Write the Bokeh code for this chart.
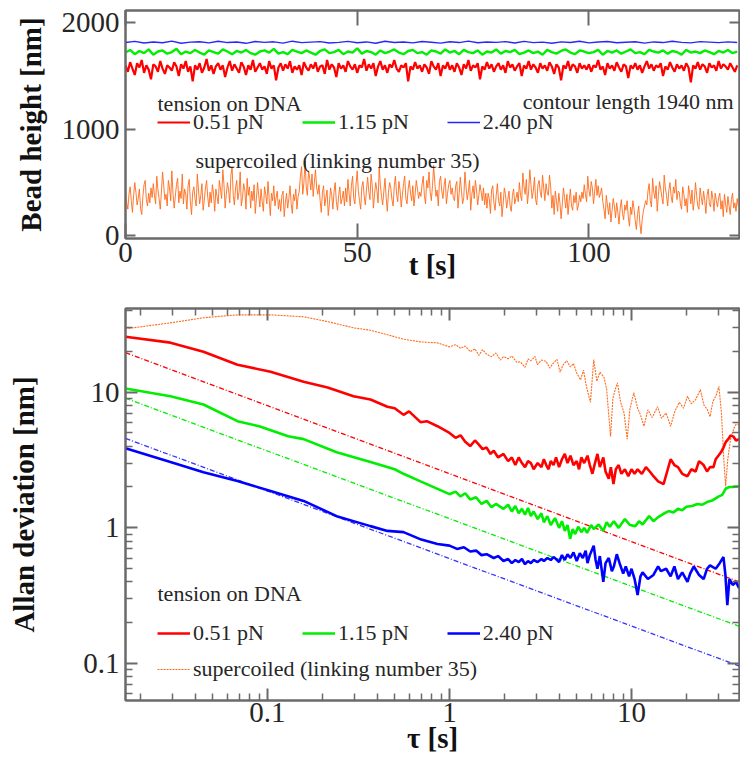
import numpy as np
from bokeh.plotting import figure
from bokeh.models import (Range1d, FixedTicker, LinearAxis, LogAxis, Legend, LegendItem,
                          Label, CustomJSTickFormatter)
from bokeh.layouts import column
from bokeh.embed import file_html
from bokeh.resources import INLINE

# ---------------- data: top panel (bead height vs time) ----------------
dt_sc = 0.25    # s, sampling of the supercoiled trace
dt_fast = 0.5   # s, red trace
dt_mid = 1.0    # s, green trace
dt_slow = 2.0   # s, blue trace

height_051 = [
    1600, 1540, 1630, 1570, 1510, 1620, 1580, 1650, 1530, 1600, 1560, 1470, 1610, 1590, 1540, 1640, 1570, 1520, 1600, 1580,
    1550, 1630, 1590, 1500, 1610, 1570, 1640, 1540, 1590, 1450, 1600, 1560, 1620, 1530, 1580, 1660, 1550, 1600, 1520, 1590,
    1620, 1560, 1600, 1490, 1580, 1640, 1550, 1610, 1570, 1530, 1630, 1590, 1510, 1600, 1560, 1650, 1540, 1580, 1620, 1560,
    1590, 1520, 1640, 1570, 1600, 1460, 1580, 1620, 1550, 1610, 1570, 1640, 1530, 1590, 1560, 1600, 1510, 1630, 1580, 1550,
    1610, 1570, 1630, 1540, 1590, 1600, 1520, 1650, 1560, 1610, 1580, 1490, 1620, 1570, 1600, 1540, 1640, 1590, 1560, 1610,
    1530, 1600, 1580, 1660, 1550, 1610, 1570, 1620, 1500, 1590, 1640, 1560, 1600, 1530, 1610, 1580, 1650, 1570, 1540, 1600,
    1580, 1620, 1450, 1590, 1560, 1630, 1570, 1600, 1540, 1610, 1580, 1520, 1640, 1590, 1560, 1620, 1500, 1600, 1570, 1630,
    1560, 1600, 1540, 1620, 1580, 1510, 1610, 1570, 1650, 1550, 1600, 1580, 1620, 1470, 1590, 1560, 1630, 1570, 1610, 1540,
    1590, 1620, 1560, 1600, 1530, 1640, 1580, 1610, 1550, 1590, 1620, 1500, 1600, 1570, 1640, 1560, 1610, 1580, 1530, 1620,
    1570, 1600, 1550, 1630, 1590, 1520, 1610, 1580, 1460, 1600, 1570, 1640, 1550, 1610, 1590, 1530, 1620, 1570, 1600, 1560,
    1610, 1540, 1600, 1580, 1650, 1560, 1590, 1510, 1620, 1570, 1600, 1550, 1630, 1580, 1540, 1610, 1590, 1480, 1600, 1570,
    1620, 1560, 1600, 1530, 1590, 1640, 1570, 1610, 1550, 1600, 1580, 1620, 1500, 1590, 1560, 1630, 1580, 1540, 1610, 1570,
    1600, 1550, 1620, 1580, 1440, 1600, 1570, 1630, 1560, 1610, 1590, 1530, 1620, 1580, 1600, 1550, 1640, 1570, 1610, 1590,
    1560, 1620, 1580, 1540, 1600,
]

height_115 = [
    1720, 1745, 1705, 1735, 1715, 1750, 1700, 1730, 1740, 1710, 1725, 1755, 1705, 1730, 1715, 1745, 1720, 1700, 1740, 1725,
    1710, 1750, 1730, 1705, 1735, 1720, 1745, 1715, 1700, 1730, 1740, 1720, 1755, 1710, 1725, 1705, 1745, 1730, 1715, 1740,
    1720, 1700, 1735, 1750, 1715, 1725, 1745, 1705, 1730, 1720, 1760, 1710, 1735, 1725, 1700, 1740, 1715, 1730, 1750, 1720,
    1705, 1735, 1745, 1715, 1725, 1700, 1740, 1730, 1710, 1750, 1720, 1735, 1705, 1745, 1725, 1715, 1740, 1700, 1730, 1720,
    1750, 1710, 1735, 1725, 1745, 1705, 1720, 1740, 1715, 1730, 1700, 1745, 1725, 1710, 1735, 1750, 1720, 1705, 1740, 1730,
    1715, 1725, 1745, 1700, 1735, 1720, 1740, 1710, 1730, 1750, 1715, 1725, 1705, 1745, 1730, 1720, 1740, 1710, 1735, 1725,
    1700, 1745, 1720, 1730, 1715, 1740, 1725, 1705, 1735, 1720, 1745, 1715, 1730,
]

height_240 = [
    1815, 1825, 1810, 1820, 1812, 1828, 1808, 1818, 1822, 1811, 1826, 1814, 1819, 1807, 1824, 1816, 1821, 1809, 1827, 1813,
    1818, 1823, 1810, 1816, 1825, 1812, 1820, 1808, 1826, 1815, 1819, 1811, 1824, 1817, 1809, 1822, 1814, 1828, 1812, 1820,
    1816, 1823, 1810, 1825, 1813, 1818, 1807, 1821, 1815, 1826, 1811, 1819, 1824, 1812, 1817, 1822, 1809, 1820, 1814, 1827,
    1816, 1811, 1823, 1818, 1813, 1821, 1815,
]

height_sc = [
    420, 310, 250, 390, 460, 330, 220, 380, 500, 410, 290, 350, 440, 260, 200, 370, 480, 520, 340, 280, 400, 310, 450, 360,
    490, 380, 300, 560, 430, 350, 250, 410, 600, 470, 340, 390, 280, 520, 450, 330, 610, 400, 260, 370, 480, 540, 310, 420,
    350, 580, 300, 440,
    390, 250, 470, 530, 320, 200, 410, 460, 350, 280, 580, 430, 300, 380, 490, 240, 330, 450, 520, 360, 270, 410, 310, 480,
    400, 230, 440, 370,
    300, 520, 440, 350, 620, 480, 260, 390, 500, 430, 310, 570, 650, 380, 290, 450, 520, 340, 410, 600, 280, 360, 490, 430,
    250, 540, 380, 460,
    260, 420, 330, 480, 210, 350, 500, 380, 270, 440, 320, 230, 460, 390, 300, 510, 350, 190, 400, 330, 470, 280, 360, 420,
    250, 340,
    230, 380, 420, 180, 310, 400, 260, 350, 470, 300, 210, 390, 330, 440, 250, 370,
    420, 560, 650, 390, 500, 700, 460, 380, 610, 540, 430, 580, 370, 500, 620, 450, 390, 480,
    330, 220, 410, 470, 280, 360, 430, 190, 300, 450, 380, 250, 410, 500, 320, 240, 380, 460, 300, 350, 420, 280,
    450, 320, 530, 400, 280, 470, 560, 350, 300, 480, 610, 420, 330, 250, 460, 510, 380, 290, 430, 550,
    420, 340, 580, 470, 260, 390, 500, 430, 310, 640, 480, 370, 290, 420, 540, 360, 230, 410, 500, 450,
    340, 280, 470, 560, 390, 320, 510, 430, 270, 380, 490, 560, 350, 300, 440, 520, 400, 330, 470, 280,
    390, 520, 440, 350, 410, 370,
    480, 560, 380, 300, 520, 450, 600, 410, 330, 470, 660, 500, 370, 430, 280, 510, 560, 420, 350, 470, 540, 300, 400, 480,
    520, 390, 450, 360,
    330, 470, 510, 260, 400, 550, 420, 300, 360, 600, 450, 340, 420, 520, 240, 390, 470, 350, 520, 430, 290, 380, 480, 410,
    330, 450, 290, 400,
    260, 400, 350, 210, 430, 470, 310, 240, 380, 490, 330, 280, 410, 180, 300, 450, 390, 260, 340, 420, 280, 230, 380, 440,
    300, 350, 410, 320,
    500, 380, 330, 590, 460, 390, 530, 300, 420, 620, 480, 350, 420, 550, 340, 290, 480, 520, 410, 360, 570, 450, 330, 490,
    410, 380, 570, 460,
    260, 380, 200, 420, 330, 230, 400, 310, 160, 290, 450, 360, 260, 390, 200, 330, 440, 280, 240, 380, 310, 410, 240, 290,
    380, 320, 410, 350,
    480, 390, 320, 560, 430, 370, 510, 450, 300, 420, 530, 380, 470, 360, 400, 450,
    320, 250, 160, 380, 290, 200, 310, 130, 240, 350, 280, 170, 310, 220, 110, 260, 340, 210, 150, 290,
    240, 330, 180, 90, 270, 200, 330, 250, 140, 60, 200, 280, 120, 20, 150, 230, 280, 330,
    290, 420, 490, 330, 270, 540, 410, 350, 470, 230, 380, 510, 440, 360, 300, 570, 450, 380, 280, 430, 500, 370, 310, 460,
    400, 530, 340, 420,
    410, 300, 250, 460, 390, 280, 350, 220, 470, 400, 300, 430, 240, 330, 500, 380, 280, 250, 450, 360, 290, 420, 330, 210,
    380, 440, 300, 270, 420, 350, 230, 400, 330, 270, 360, 400,
    250, 330, 180, 390, 300, 220, 370, 280, 200, 340, 400, 260, 310, 230, 350, 280,
]

t_051 = np.arange(len(height_051)) * dt_fast
t_115 = np.arange(len(height_115)) * dt_mid
t_240 = np.arange(len(height_240)) * dt_slow
t_sc = np.arange(len(height_sc)) * dt_sc

# ---------------- data: bottom panel (Allan deviation) ----------------
tau_051 = [0.0166, 0.0293, 0.0445, 0.0684, 0.104, 0.158, 0.214, 0.297, 0.368, 0.456, 0.50, 0.559, 0.60,
           0.693, 0.75, 0.859,
           1.0, 1.08, 1.15, 1.22, 1.3, 1.38, 1.45, 1.52, 1.6, 1.68, 1.75, 1.85, 1.98, 2.1, 2.2, 2.3, 2.4,
           2.5, 2.6, 2.7, 2.8, 2.9, 3.05, 3.2, 3.3, 3.4, 3.5, 3.6, 3.73, 3.85, 4.0, 4.15, 4.3, 4.45, 4.62,
           4.8, 5.0, 5.15, 5.3, 5.5, 5.73, 5.9, 6.1, 6.3, 6.5, 6.7, 7.0, 7.2, 7.5, 7.7, 7.96, 8.2, 8.5,
           8.8, 9.2, 9.6, 10.0, 10.4, 10.8, 11.4, 12.0, 12.6, 13.2, 14.0, 15.0, 15.7, 16.4, 17.2, 18.0,
           19.0, 20.3, 21.3, 22.5, 23.5, 24.9, 26.0, 27.0, 28.2, 29.0, 30.0, 31.0, 32.0, 33.0, 34.0,
           35.0, 36.3, 37.5, 39.0]
adev_051 = [25.5, 23.1, 19.8, 15.9, 14.1, 11.9, 10.8, 9.3, 8.8, 7.8, 7.6, 6.8, 7.2,
            6.0, 6.1, 5.6,
            5.0, 4.6, 4.8, 4.3, 4.0, 4.4, 4.1, 3.8, 3.9, 3.5, 3.7, 3.3, 3.5, 3.1, 3.3, 2.9, 3.3,
            3.0, 2.8, 3.1, 3.0, 2.7, 3.0, 2.8, 3.2, 2.9, 2.7, 3.1, 2.9, 3.3, 2.8, 3.2, 3.5, 3.0, 3.4,
            2.9, 3.1, 2.7, 3.3, 3.0, 3.4, 2.9, 2.5, 3.0, 3.5, 2.8, 3.3, 2.6, 2.3, 2.8, 2.1, 2.7, 2.9,
            2.5, 2.7, 2.4, 2.7, 2.5, 2.7, 2.5, 2.8, 2.6, 2.4, 2.2, 2.1, 2.6, 3.2, 2.9, 2.8,
            2.5, 2.4, 2.7, 2.6, 3.1, 2.9, 2.6, 2.8, 2.8, 3.2, 3.4, 3.6, 3.9, 4.3, 4.5,
            4.8, 4.7, 4.4, 4.5]

tau_115 = [0.0166, 0.0293, 0.0445, 0.0684, 0.09, 0.13, 0.158, 0.24, 0.368, 0.5, 0.559, 0.693,
           1.0, 1.08, 1.15, 1.22, 1.3, 1.4, 1.5, 1.6, 1.7, 1.8, 1.98, 2.1, 2.2, 2.3, 2.4, 2.5, 2.6, 2.7,
           2.8, 2.9, 3.05, 3.2, 3.3, 3.45, 3.6, 3.8, 4.0, 4.15, 4.3, 4.45, 4.6, 4.75, 4.9, 5.1, 5.3,
           5.5, 5.7, 6.0, 6.2, 6.6, 7.0, 7.3, 7.6, 8.0, 8.5, 9.2, 9.8, 10.5, 11.0, 11.5, 12.5, 13.2,
           14.0, 15.0, 16.0, 17.0, 18.0, 19.0, 20.0, 21.5, 23.0, 24.5, 26.0, 28.0, 30.0, 31.5, 33.0,
           34.5, 36.0, 39.0]
adev_115 = [10.6, 9.3, 8.1, 6.1, 5.6, 4.72, 4.5, 3.6, 3.05, 2.7, 2.5, 2.2,
            1.77, 1.85, 1.7, 1.8, 1.62, 1.68, 1.5, 1.58, 1.42, 1.5, 1.38, 1.48, 1.32, 1.45, 1.28, 1.38,
            1.25, 1.4, 1.22, 1.32, 1.16, 1.28, 1.1, 1.22, 1.05, 1.18, 1.0, 1.12, 0.95, 1.05, 0.83, 0.98,
            0.9, 1.02, 0.93, 1.0, 0.92, 1.05, 0.98, 1.06, 0.95, 1.1, 1.02, 1.12, 1.0, 1.16, 1.05, 1.03,
            1.12, 1.06, 1.22, 1.12, 1.2, 1.27, 1.33, 1.3, 1.38, 1.35, 1.43, 1.45, 1.5, 1.48, 1.55, 1.6,
            1.7, 1.75, 1.95, 2.0, 2.0, 2.02]

tau_240 = [0.0166, 0.0293, 0.0445, 0.0684, 0.104, 0.158, 0.24, 0.368, 0.456, 0.559, 0.7, 0.859,
           1.0, 1.1, 1.2, 1.3, 1.4, 1.5, 1.6, 1.75, 1.85, 1.98, 2.1, 2.2, 2.3, 2.4, 2.5, 2.6, 2.7, 2.8,
           2.9, 3.05, 3.2, 3.3, 3.45, 3.6, 3.73, 3.85, 4.0, 4.15, 4.3, 4.45, 4.62, 4.8, 5.0, 5.2, 5.4,
           5.6, 5.73, 5.9, 6.2, 6.35, 6.5, 6.7, 7.0, 7.2, 7.5, 7.8, 8.0, 8.3, 8.6, 9.0, 9.3, 9.7, 10.0,
           10.4, 10.8, 11.2, 11.5, 12.3, 13.2, 14.0, 14.5, 15.5, 16.4, 17.2, 18.0, 19.0, 20.3, 21.0,
           22.0, 23.5, 24.9, 26.0, 27.0, 29.0, 30.5, 32.0, 32.8, 33.6, 34.5, 36.0, 37.5, 39.0]
adev_240 = [3.86, 3.05, 2.57, 2.21, 1.87, 1.58, 1.22, 1.03, 0.95, 0.93, 0.82, 0.76,
            0.74, 0.70, 0.72, 0.67, 0.68, 0.63, 0.64, 0.60, 0.62, 0.57, 0.59, 0.55, 0.58, 0.56, 0.59,
            0.54, 0.57, 0.55, 0.58, 0.56, 0.59, 0.57, 0.60, 0.58, 0.61, 0.59, 0.56, 0.63, 0.58, 0.64,
            0.60, 0.66, 0.57, 0.65, 0.60, 0.68, 0.55, 0.63, 0.74, 0.58, 0.50, 0.62, 0.40, 0.55, 0.60,
            0.48, 0.52, 0.64, 0.55, 0.46, 0.52, 0.44, 0.50, 0.42, 0.32, 0.44, 0.47, 0.42, 0.45, 0.52,
            0.48, 0.50, 0.44, 0.52, 0.42, 0.47, 0.40, 0.46, 0.52, 0.45, 0.42, 0.50, 0.53, 0.50, 0.55,
            0.61, 0.45, 0.27, 0.42, 0.38, 0.40, 0.36]

tau_sc = [0.0166, 0.0293, 0.0445, 0.0684, 0.104, 0.158, 0.214, 0.297, 0.368, 0.456, 0.559, 0.693,
          0.859, 0.95, 1.0, 1.08, 1.15, 1.22, 1.3, 1.38, 1.45, 1.52, 1.6, 1.7, 1.8, 1.9, 1.98, 2.1,
          2.2, 2.35, 2.45, 2.6, 2.7, 2.8, 2.95, 3.04, 3.2, 3.4, 3.55, 3.73, 3.9, 4.05, 4.2, 4.4, 4.62,
          4.8, 5.0, 5.25, 5.45, 5.65, 5.95, 6.2, 6.45, 6.7, 7.05, 7.3, 7.67, 7.9, 8.15, 8.37, 8.7,
          9.1, 9.47, 9.8, 10.3, 10.8, 11.2, 11.7, 12.3, 13.0, 13.9, 14.6, 15.5, 16.4, 17.3, 18.3,
          19.3, 20.3, 21.3, 22.5, 23.9, 25.0, 26.0, 27.0, 28.0, 29.2, 30.2, 31.2, 32.2, 32.9, 33.8,
          35.0, 36.5, 38.1, 39.0]
adev_sc = [29.2, 32.3, 35.2, 37.0, 37.0, 35.8, 33.0, 29.7, 28.5, 26.4, 24.5, 23.4,
           23.0, 22.0, 21.5, 22.3, 21.0, 21.8, 19.8, 20.8, 18.6, 20.5, 19.0, 18.2, 19.4, 17.2, 18.2, 17.6,
           18.4, 16.5, 16.7, 15.2, 17.5, 17.0, 18.3, 15.9, 17.2, 16.8, 15.0, 16.4, 17.4, 14.0, 15.8, 17.0,
           15.3, 16.2, 13.8, 12.3, 14.5, 11.0, 8.4, 17.3, 12.0, 14.0, 12.9, 10.5, 4.7, 9.0, 10.5, 11.7,
           8.5, 7.0, 4.5, 7.5, 9.9, 7.6, 6.8, 5.6, 7.4, 6.5, 7.8, 6.4, 7.0, 5.6, 7.2, 8.4,
           7.6, 9.3, 8.2, 8.8, 10.4, 8.0, 7.5, 6.6, 8.5, 9.5, 11.0, 7.0, 3.05, 2.03, 3.2,
           4.5, 5.4, 6.0, 5.5]

# white-noise (tau^-1/2) reference lines, end values
fit_tau = [0.0166, 39.2]
fit_051 = [19.5, 0.40]
fit_115 = [9.0, 0.188]
fit_240 = [4.56, 0.096]

# ---------------- style ----------------
FONT = "Liberation Serif"
TXT = "#262626"
AX = "#6a6a6a"
RED, GREEN, BLUE, ORANGE = "#ff0000", "#00ee00", "#0000ff", "#ff6a1a"

blank_fmt = CustomJSTickFormatter(code="return '';")
num_fmt = CustomJSTickFormatter(code="return String(tick);")


def style_axis(ax, tick_in, minor_in=0, labels=True):
    ax.axis_line_color = AX
    ax.axis_line_width = 2
    ax.major_tick_line_color = AX
    ax.major_tick_line_width = 2
    ax.major_tick_in = tick_in
    ax.major_tick_out = 0
    if minor_in:
        ax.minor_tick_line_color = AX
        ax.minor_tick_line_width = 1.5
        ax.minor_tick_in = minor_in
        ax.minor_tick_out = 0
    else:
        ax.minor_tick_line_color = None
    ax.major_label_text_font = FONT
    ax.major_label_text_color = TXT
    ax.axis_label_text_font = FONT
    ax.axis_label_text_font_style = "bold"
    ax.axis_label_text_font_size = "29px"
    ax.axis_label_text_color = "#111111"
    if labels:
        ax.major_label_text_font_size = "29px"
    else:
        ax.formatter = blank_fmt
        ax.major_label_text_font_size = "1px"
        ax.major_label_text_color = None
        ax.major_label_standoff = 0


def txt_label(p, x, y, text, align="left"):
    p.add_layout(Label(x=x, y=y, x_units="screen", y_units="screen", text=text,
                       text_font=FONT, text_font_size="22px", text_color=TXT,
                       text_align=align, text_baseline="alphabetic"))


def legend_style(lg):
    lg.label_text_font = FONT
    lg.label_text_font_size = "22px"
    lg.label_text_color = TXT
    lg.glyph_width = 33
    lg.glyph_height = 24
    lg.label_height = 24
    lg.label_standoff = 3
    lg.padding = 0
    lg.margin = 0
    lg.background_fill_alpha = 0
    lg.border_line_alpha = 0


# ---------------- top panel ----------------
p1 = figure(width=740, height=298, x_range=Range1d(0, 132.5), y_range=Range1d(-25, 2115),
            output_backend="svg", toolbar_location=None,
            min_border_left=125, min_border_right=1, min_border_top=10, min_border_bottom=60)
p1.grid.visible = False
p1.outline_line_color = AX
p1.outline_line_width = 2

r_sc1 = p1.line(t_sc, height_sc, line_color=ORANGE, line_width=1.0, line_alpha=0.9)
r_051 = p1.line(t_051, height_051, line_color=RED, line_width=2.2)
r_115 = p1.line(t_115, height_115, line_color=GREEN, line_width=2.4)
r_240 = p1.line(t_240, height_240, line_color=BLUE, line_width=1.4, line_alpha=0.85)

xt1 = FixedTicker(ticks=[0, 50, 100])
yt1 = FixedTicker(ticks=[0, 1000, 2000])
p1.xaxis.ticker = xt1
p1.yaxis.ticker = yt1
style_axis(p1.xaxis[0], 15)
style_axis(p1.yaxis[0], 10)
p1.xaxis.axis_label = "t [s]"
p1.xaxis.major_label_standoff = 4
p1.xaxis.axis_label_standoff = -16
p1.yaxis.axis_label = "Bead height [nm]"
p1.yaxis.major_label_standoff = 6
p1.yaxis.axis_label_standoff = 12

ax_top1 = LinearAxis(ticker=xt1)
style_axis(ax_top1, 15, labels=False)
p1.add_layout(ax_top1, "above")
ax_right1 = LinearAxis(ticker=yt1)
style_axis(ax_right1, 10, labels=False)
p1.add_layout(ax_right1, "right")

lg1 = Legend(items=[LegendItem(label="0.51 pN", renderers=[r_051]),
                    LegendItem(label="1.15 pN", renderers=[r_115]),
                    LegendItem(label="2.40 pN", renderers=[r_240])],
             orientation="horizontal", location=(32, 103), spacing=38)
legend_style(lg1)
p1.add_layout(lg1, "center")

txt_label(p1, 32, 135, "tension on DNA")
txt_label(p1, 608, 137, "contour length 1940 nm", align="right")
txt_label(p1, 70, 78, "supercoiled (linking number 35)")

# ---------------- bottom panel ----------------
p2 = figure(width=740, height=464, x_axis_type="log", y_axis_type="log",
            x_range=Range1d(0.0166, 39.2), y_range=Range1d(0.0536, 41.2),
            output_backend="svg", toolbar_location=None,
            min_border_left=125, min_border_right=1, min_border_top=10, min_border_bottom=62)
p2.grid.visible = False
p2.outline_line_color = AX
p2.outline_line_width = 2

DASHDOT = "5 2 1 2"
p2.line(fit_tau, fit_051, line_color=RED, line_width=1.3, line_dash=DASHDOT)
p2.line(fit_tau, fit_115, line_color=GREEN, line_width=1.3, line_dash=DASHDOT)
p2.line(fit_tau, fit_240, line_color=BLUE, line_width=1.3, line_dash=DASHDOT, line_alpha=0.8)
r2_sc = p2.line(tau_sc, adev_sc, line_color=ORANGE, line_width=1.1, line_dash="2 1")
r2_051 = p2.line(tau_051, adev_051, line_color=RED, line_width=2.6)
r2_115 = p2.line(tau_115, adev_115, line_color=GREEN, line_width=2.6)
r2_240 = p2.line(tau_240, adev_240, line_color=BLUE, line_width=2.6)

xt2 = FixedTicker(ticks=[0.1, 1, 10],
                  minor_ticks=[0.02, 0.03, 0.04, 0.05, 0.06, 0.07, 0.08, 0.09,
                               0.2, 0.3, 0.4, 0.5, 0.6, 0.7, 0.8, 0.9,
                               2, 3, 4, 5, 6, 7, 8, 9, 20, 30])
yt2 = FixedTicker(ticks=[0.1, 1, 10],
                  minor_ticks=[0.06, 0.07, 0.08, 0.09, 0.2, 0.3, 0.4, 0.5, 0.6, 0.7, 0.8, 0.9,
                               2, 3, 4, 5, 6, 7, 8, 9, 20, 30, 40])
p2.xaxis.ticker = xt2
p2.yaxis.ticker = yt2
style_axis(p2.xaxis[0], 12, 7)
style_axis(p2.yaxis[0], 12, 7)
p2.xaxis.formatter = num_fmt
p2.yaxis.formatter = num_fmt
p2.xaxis.axis_label = "τ [s]"
p2.xaxis.major_label_standoff = 2
p2.xaxis.axis_label_standoff = -3
p2.yaxis.axis_label = "Allan deviation [nm]"
p2.yaxis.major_label_standoff = 6
p2.yaxis.axis_label_standoff = 40

ax_top2 = LogAxis(ticker=xt2)
style_axis(ax_top2, 12, 7, labels=False)
p2.add_layout(ax_top2, "above")
ax_right2 = LogAxis(ticker=yt2)
style_axis(ax_right2, 12, 7, labels=False)
p2.add_layout(ax_right2, "right")

lg2 = Legend(items=[LegendItem(label="0.51 pN", renderers=[r2_051]),
                    LegendItem(label="1.15 pN", renderers=[r2_115]),
                    LegendItem(label="2.40 pN", renderers=[r2_240])],
             orientation="horizontal", location=(32, 54), spacing=38)
legend_style(lg2)
p2.add_layout(lg2, "center")
lg3 = Legend(items=[LegendItem(label="supercoiled (linking number 35)", renderers=[r2_sc])],
             location=(32, 18))
legend_style(lg3)
p2.add_layout(lg3, "center")
txt_label(p2, 32, 107, "tension on DNA")

layout = column(p1, p2, spacing=0)
open("out.html", "w").write(file_html(layout, INLINE))
